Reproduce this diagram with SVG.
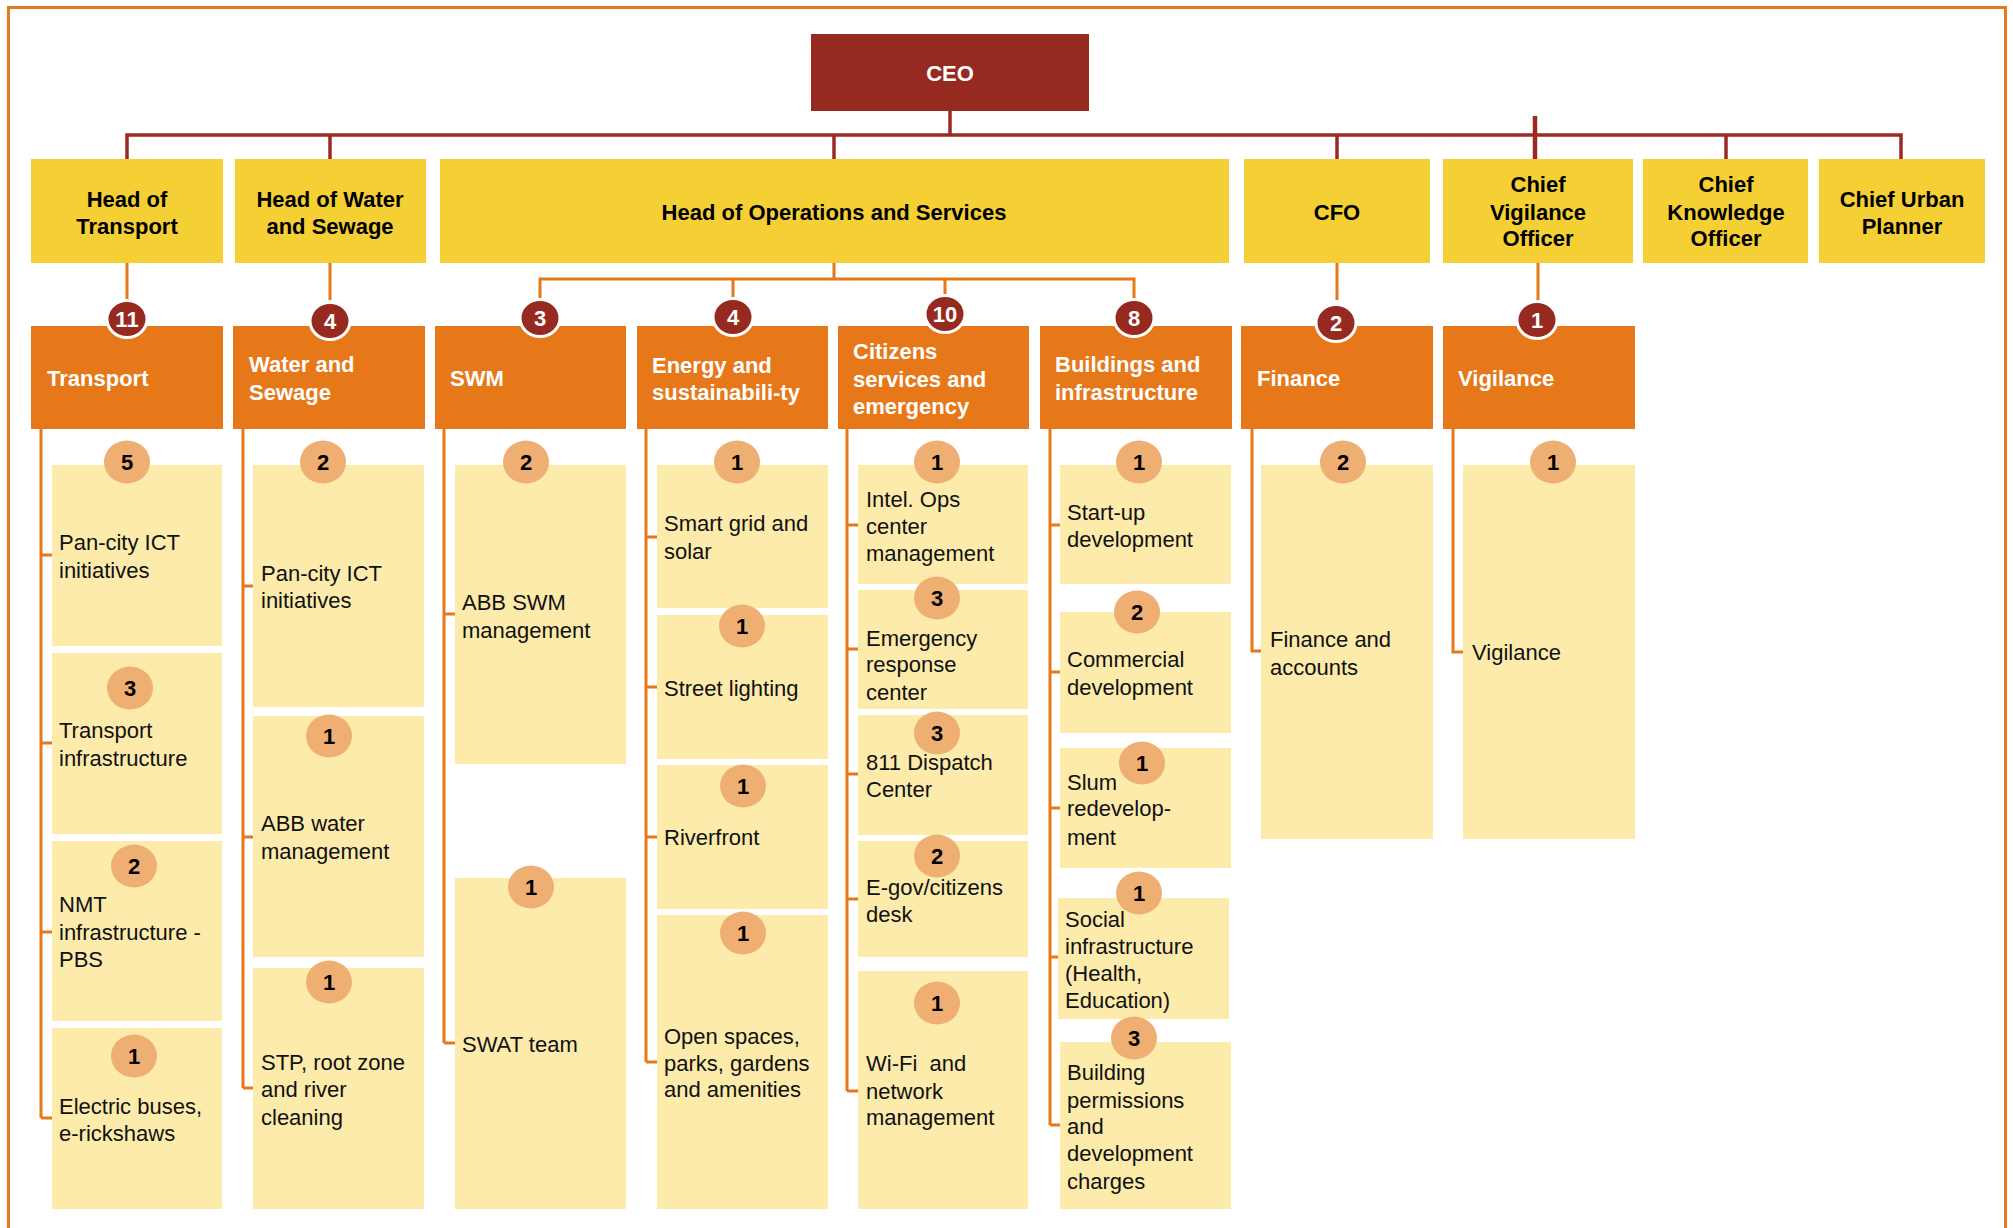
<svg xmlns="http://www.w3.org/2000/svg" width="2013" height="1228" viewBox="0 0 2013 1228">
<style>
text{font-family:"Liberation Sans",Arial,sans-serif;font-size:22px}
.b{font-weight:bold}
.ceo{fill:#962A20}
.head{fill:#F5D034}
.dept{fill:#E6781A}
.sub{fill:#FCEBAA}
.ht{fill:#000;font-weight:bold;text-anchor:middle}
.dt{fill:#fff;font-weight:bold}
.st{fill:#111}
.bd{fill:#962A20;stroke:#fff;stroke-width:3}
.bl{fill:#EFAE72}
.bn{font-weight:bold;text-anchor:middle}
.red{stroke:#9B2B22;stroke-width:3.5;fill:none}
.org{stroke:#E6781A;stroke-width:3;fill:none}
</style>
<rect x="8.5" y="7.5" width="1997" height="1240" fill="none" stroke="#E87A1E" stroke-width="3"/>

<g id="connectors">
<path class="red" d="M950 111V135M127 159V135H1901V159M330 135V159M834 135V159M1337 135V159M1726 135V159"/>
<path d="M1535 116V159" stroke="#9B2B22" stroke-width="4.5"/>
<path class="org" d="M127 263V300M330 263V300M834 263V279M540 300V279H1134V300M733 279V300M945 279V300M1337 263V300M1538 263V300"/>
<path class="org" d="M41 429V1118M41 555H52M41 743H52M41 932H52M41 1118H52"/>
<path class="org" d="M243 429V1088M243 586H253M243 837H253M243 1088H253"/>
<path class="org" d="M444 429V1043M444 614H455M444 1043H455"/>
<path class="org" d="M646 429V1062M646 537H657M646 687H657M646 837H657M646 1062H657"/>
<path class="org" d="M847 429V1091M847 525H858M847 649H858M847 774H858M847 899H858M847 1091H858"/>
<path class="org" d="M1050 429V1125M1050 525H1060M1050 672H1060M1050 808H1060M1050 957H1058M1050 1125H1060"/>
<path class="org" d="M1252 429V651H1261"/>
<path class="org" d="M1453 429V652H1463"/>
</g>

<g id="ceo">
<rect class="ceo" x="811" y="34" width="278" height="77"/>
<text class="dt" x="950" y="81" text-anchor="middle">CEO</text>
</g>

<g id="head-transport"><rect class="head" x="31" y="159" width="192" height="104"/>
<text class="ht" x="127" y="207">Head of</text><text class="ht" x="127" y="234">Transport</text></g>
<g id="head-water"><rect class="head" x="235" y="159" width="191" height="104"/>
<text class="ht" x="330" y="207">Head of Water</text><text class="ht" x="330" y="234">and Sewage</text></g>
<g id="head-ops"><rect class="head" x="440" y="159" width="789" height="104"/>
<text class="ht" x="834" y="220">Head of Operations and Services</text></g>
<g id="head-cfo"><rect class="head" x="1244" y="159" width="186" height="104"/>
<text class="ht" x="1337" y="220">CFO</text></g>
<g id="head-cvo"><rect class="head" x="1443" y="159" width="190" height="104"/>
<text class="ht" x="1538" y="192">Chief</text><text class="ht" x="1538" y="220">Vigilance</text><text class="ht" x="1538" y="246">Officer</text></g>
<g id="head-cko"><rect class="head" x="1643" y="159" width="165" height="104"/>
<text class="ht" x="1726" y="192">Chief</text><text class="ht" x="1726" y="220">Knowledge</text><text class="ht" x="1726" y="246">Officer</text></g>
<g id="head-cup"><rect class="head" x="1819" y="159" width="166" height="104"/>
<text class="ht" x="1902" y="207">Chief Urban</text><text class="ht" x="1902" y="234">Planner</text></g>

<g id="dept-transport"><rect class="dept" x="31" y="326" width="192" height="103"/>
<text class="dt" x="47" y="386">Transport</text>
<ellipse class="bd" cx="127" cy="319" rx="20" ry="18.5"/><text class="bn" fill="#fff" x="127" y="327">11</text></g>
<g id="dept-water"><rect class="dept" x="233" y="326" width="192" height="103"/>
<text class="dt" x="249" y="372">Water and</text><text class="dt" x="249" y="400">Sewage</text>
<ellipse class="bd" cx="330" cy="321" rx="20" ry="18.5"/><text class="bn" fill="#fff" x="330" y="329">4</text></g>
<g id="dept-swm"><rect class="dept" x="435" y="326" width="191" height="103"/>
<text class="dt" x="450" y="386">SWM</text>
<ellipse class="bd" cx="540" cy="318" rx="20" ry="18.5"/><text class="bn" fill="#fff" x="540" y="326">3</text></g>
<g id="dept-energy"><rect class="dept" x="637" y="326" width="191" height="103"/>
<text class="dt" x="652" y="373">Energy and</text><text class="dt" x="652" y="400">sustainabili-ty</text>
<ellipse class="bd" cx="733" cy="317" rx="20" ry="18.5"/><text class="bn" fill="#fff" x="733" y="325">4</text></g>
<g id="dept-citizens"><rect class="dept" x="838" y="326" width="191" height="103"/>
<text class="dt" x="853" y="359">Citizens</text><text class="dt" x="853" y="387">services and</text><text class="dt" x="853" y="414">emergency</text>
<ellipse class="bd" cx="945" cy="314" rx="20" ry="18.5"/><text class="bn" fill="#fff" x="945" y="322">10</text></g>
<g id="dept-buildings"><rect class="dept" x="1040" y="326" width="192" height="103"/>
<text class="dt" x="1055" y="372">Buildings and</text><text class="dt" x="1055" y="400">infrastructure</text>
<ellipse class="bd" cx="1134" cy="318" rx="20" ry="18.5"/><text class="bn" fill="#fff" x="1134" y="326">8</text></g>
<g id="dept-finance"><rect class="dept" x="1241" y="326" width="192" height="103"/>
<text class="dt" x="1257" y="386">Finance</text>
<ellipse class="bd" cx="1336" cy="323" rx="20" ry="18.5"/><text class="bn" fill="#fff" x="1336" y="331">2</text></g>
<g id="dept-vigilance"><rect class="dept" x="1443" y="326" width="192" height="103"/>
<text class="dt" x="1458" y="386">Vigilance</text>
<ellipse class="bd" cx="1537" cy="320" rx="20" ry="18.5"/><text class="bn" fill="#fff" x="1537" y="328">1</text></g>

<!-- Transport subs -->
<g id="t1"><rect class="sub" x="52" y="465" width="170" height="181"/>
<ellipse class="bl" cx="127" cy="462" rx="23" ry="21.5"/><text class="bn" x="127" y="470">5</text>
<text class="st" x="59" y="550">Pan-city ICT</text><text class="st" x="59" y="578">initiatives</text></g>
<g id="t2"><rect class="sub" x="52" y="653" width="170" height="181"/>
<ellipse class="bl" cx="130" cy="688" rx="23" ry="21.5"/><text class="bn" x="130" y="696">3</text>
<text class="st" x="59" y="738">Transport</text><text class="st" x="59" y="766">infrastructure</text></g>
<g id="t3"><rect class="sub" x="52" y="841" width="170" height="180"/>
<ellipse class="bl" cx="134" cy="866" rx="23" ry="21.5"/><text class="bn" x="134" y="874">2</text>
<text class="st" x="59" y="912">NMT</text><text class="st" x="59" y="940">infrastructure -</text><text class="st" x="59" y="967">PBS</text></g>
<g id="t4"><rect class="sub" x="52" y="1028" width="170" height="181"/>
<ellipse class="bl" cx="134" cy="1056" rx="23" ry="21.5"/><text class="bn" x="134" y="1064">1</text>
<text class="st" x="59" y="1114">Electric buses,</text><text class="st" x="59" y="1141">e-rickshaws</text></g>

<!-- Water subs -->
<g id="w1"><rect class="sub" x="253" y="465" width="171" height="242"/>
<ellipse class="bl" cx="323" cy="462" rx="23" ry="21.5"/><text class="bn" x="323" y="470">2</text>
<text class="st" x="261" y="581">Pan-city ICT</text><text class="st" x="261" y="608">initiatives</text></g>
<g id="w2"><rect class="sub" x="253" y="716" width="171" height="241"/>
<ellipse class="bl" cx="329" cy="736" rx="23" ry="21.5"/><text class="bn" x="329" y="744">1</text>
<text class="st" x="261" y="831">ABB water</text><text class="st" x="261" y="859">management</text></g>
<g id="w3"><rect class="sub" x="253" y="968" width="171" height="241"/>
<ellipse class="bl" cx="329" cy="982" rx="23" ry="21.5"/><text class="bn" x="329" y="990">1</text>
<text class="st" x="261" y="1070">STP, root zone</text><text class="st" x="261" y="1097">and river</text><text class="st" x="261" y="1125">cleaning</text></g>

<!-- SWM subs -->
<g id="s1"><rect class="sub" x="455" y="465" width="171" height="299"/>
<ellipse class="bl" cx="526" cy="462" rx="23" ry="21.5"/><text class="bn" x="526" y="470">2</text>
<text class="st" x="462" y="610">ABB SWM</text><text class="st" x="462" y="638">management</text></g>
<g id="s2"><rect class="sub" x="455" y="878" width="171" height="331"/>
<ellipse class="bl" cx="531" cy="887" rx="23" ry="21.5"/><text class="bn" x="531" y="895">1</text>
<text class="st" x="462" y="1052">SWAT team</text></g>

<!-- Energy subs -->
<g id="e1"><rect class="sub" x="657" y="465" width="171" height="143"/>
<ellipse class="bl" cx="737" cy="462" rx="23" ry="21.5"/><text class="bn" x="737" y="470">1</text>
<text class="st" x="664" y="531">Smart grid and</text><text class="st" x="664" y="559">solar</text></g>
<g id="e2"><rect class="sub" x="657" y="615" width="171" height="144"/>
<ellipse class="bl" cx="742" cy="626" rx="23" ry="21.5"/><text class="bn" x="742" y="634">1</text>
<text class="st" x="664" y="696">Street lighting</text></g>
<g id="e3"><rect class="sub" x="657" y="765" width="171" height="144"/>
<ellipse class="bl" cx="743" cy="786" rx="23" ry="21.5"/><text class="bn" x="743" y="794">1</text>
<text class="st" x="664" y="845">Riverfront</text></g>
<g id="e4"><rect class="sub" x="657" y="915" width="171" height="294"/>
<ellipse class="bl" cx="743" cy="933" rx="23" ry="21.5"/><text class="bn" x="743" y="941">1</text>
<text class="st" x="664" y="1044">Open spaces,</text><text class="st" x="664" y="1071">parks, gardens</text><text class="st" x="664" y="1097">and amenities</text></g>

<!-- Citizens subs -->
<g id="c1"><rect class="sub" x="858" y="465" width="170" height="119"/>
<ellipse class="bl" cx="937" cy="462" rx="23" ry="21.5"/><text class="bn" x="937" y="470">1</text>
<text class="st" x="866" y="507">Intel. Ops</text><text class="st" x="866" y="534">center</text><text class="st" x="866" y="561">management</text></g>
<g id="c2"><rect class="sub" x="858" y="590" width="170" height="119"/>
<ellipse class="bl" cx="937" cy="598" rx="23" ry="21.5"/><text class="bn" x="937" y="606">3</text>
<text class="st" x="866" y="646">Emergency</text><text class="st" x="866" y="672">response</text><text class="st" x="866" y="700">center</text></g>
<g id="c3"><rect class="sub" x="858" y="715" width="170" height="120"/>
<ellipse class="bl" cx="937" cy="733" rx="23" ry="21.5"/><text class="bn" x="937" y="741">3</text>
<text class="st" x="866" y="770">811 Dispatch</text><text class="st" x="866" y="797">Center</text></g>
<g id="c4"><rect class="sub" x="858" y="841" width="170" height="116"/>
<ellipse class="bl" cx="937" cy="856" rx="23" ry="21.5"/><text class="bn" x="937" y="864">2</text>
<text class="st" x="866" y="895">E-gov/citizens</text><text class="st" x="866" y="922">desk</text></g>
<g id="c5"><rect class="sub" x="858" y="971" width="170" height="238"/>
<ellipse class="bl" cx="937" cy="1003" rx="23" ry="21.5"/><text class="bn" x="937" y="1011">1</text>
<text class="st" x="866" y="1071" xml:space="preserve">Wi-Fi  and</text><text class="st" x="866" y="1099">network</text><text class="st" x="866" y="1125">management</text></g>

<!-- Buildings subs -->
<g id="b1"><rect class="sub" x="1060" y="465" width="171" height="119"/>
<ellipse class="bl" cx="1139" cy="462" rx="23" ry="21.5"/><text class="bn" x="1139" y="470">1</text>
<text class="st" x="1067" y="520">Start-up</text><text class="st" x="1067" y="547">development</text></g>
<g id="b2"><rect class="sub" x="1060" y="612" width="171" height="121"/>
<ellipse class="bl" cx="1137" cy="612" rx="23" ry="21.5"/><text class="bn" x="1137" y="620">2</text>
<text class="st" x="1067" y="667">Commercial</text><text class="st" x="1067" y="695">development</text></g>
<g id="b3"><rect class="sub" x="1060" y="748" width="171" height="120"/>
<ellipse class="bl" cx="1142" cy="763" rx="23" ry="21.5"/><text class="bn" x="1142" y="771">1</text>
<text class="st" x="1067" y="790">Slum</text><text class="st" x="1067" y="816">redevelop-</text><text class="st" x="1067" y="845">ment</text></g>
<g id="b4"><rect class="sub" x="1058" y="898" width="171" height="121"/>
<ellipse class="bl" cx="1139" cy="893" rx="23" ry="21.5"/><text class="bn" x="1139" y="901">1</text>
<text class="st" x="1065" y="927">Social</text><text class="st" x="1065" y="954">infrastructure</text><text class="st" x="1065" y="981">(Health,</text><text class="st" x="1065" y="1008">Education)</text></g>
<g id="b5"><rect class="sub" x="1060" y="1042" width="171" height="167"/>
<ellipse class="bl" cx="1134" cy="1038" rx="23" ry="21.5"/><text class="bn" x="1134" y="1046">3</text>
<text class="st" x="1067" y="1080">Building</text><text class="st" x="1067" y="1108">permissions</text><text class="st" x="1067" y="1134">and</text><text class="st" x="1067" y="1161">development</text><text class="st" x="1067" y="1189">charges</text></g>

<!-- Finance / Vigilance subs -->
<g id="f1"><rect class="sub" x="1261" y="465" width="172" height="374"/>
<ellipse class="bl" cx="1343" cy="462" rx="23" ry="21.5"/><text class="bn" x="1343" y="470">2</text>
<text class="st" x="1270" y="647">Finance and</text><text class="st" x="1270" y="675">accounts</text></g>
<g id="v1"><rect class="sub" x="1463" y="465" width="172" height="374"/>
<ellipse class="bl" cx="1553" cy="462" rx="23" ry="21.5"/><text class="bn" x="1553" y="470">1</text>
<text class="st" x="1472" y="660">Vigilance</text></g>
</svg>
